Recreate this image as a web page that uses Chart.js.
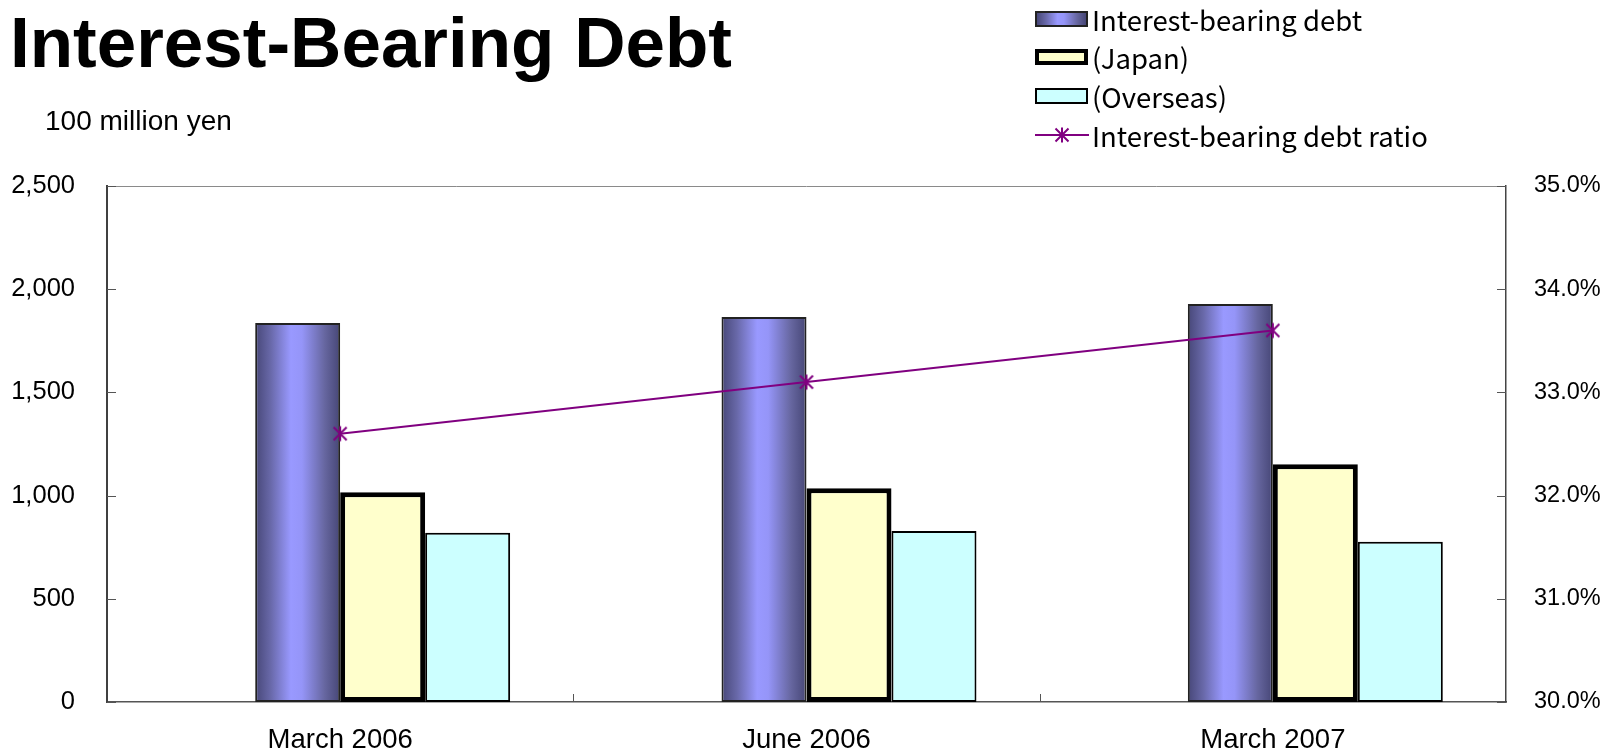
<!DOCTYPE html>
<html><head><meta charset="utf-8">
<script src="https://cdn.jsdelivr.net/npm/chart.js@4/dist/chart.umd.min.js"></script>
<style>
html,body{margin:0;padding:0;background:#fff;}
#wrap{position:relative;width:1601px;height:755px;overflow:hidden;background:#fff;}
#c{position:absolute;left:0;top:0;}
#title{position:absolute;left:10px;top:1px;font-family:"Liberation Sans",Arial,sans-serif;font-weight:bold;font-size:71px;line-height:84px;white-space:nowrap;color:#000;}
#unit{position:absolute;left:45px;top:105px;font-family:"Liberation Sans",Arial,sans-serif;font-size:28px;line-height:32px;white-space:nowrap;color:#000;}
#legend{position:absolute;left:1034px;top:0;width:567px;height:160px;}
.row{position:absolute;left:0;height:38px;display:flex;align-items:center;white-space:nowrap;}
.row canvas{display:block;}
.row span{margin-left:2px;font-family:"Noto Sans CJK JP","Liberation Sans",sans-serif;font-size:27.5px;line-height:38px;color:#000;}
</style>
</head><body>
<div id="wrap">
<canvas id="c" width="1601" height="755"></canvas>
<div id="title">Interest-Bearing Debt</div>
<div id="unit">100 million yen</div>
<div id="legend"></div>
</div>
<script>
// ---- data ----
const categories = ['March 2006', 'June 2006', 'March 2007'];
const totalDebt = [1836, 1865, 1928];
const japanDebt = [1016, 1036, 1152];
const overseasDebt = [820, 829, 776];
const debtRatio = [32.6, 33.1, 33.6];
const seriesNames = ['Interest-bearing debt', '(Japan)', '(Overseas)', 'Interest-bearing debt ratio'];
const leftAxis = {min: 0, max: 2500, step: 500};
const rightAxis = {min: 30, max: 35, step: 1};

const PURPLE = '#800080';
function drawStar(ctx, cx, cy, r) {
  ctx.save();
  ctx.strokeStyle = PURPLE; ctx.lineWidth = 2; ctx.lineCap = 'butt';
  ctx.beginPath();
  ctx.moveTo(cx - r, cy - r); ctx.lineTo(cx + r, cy + r);
  ctx.moveTo(cx + r, cy - r); ctx.lineTo(cx - r, cy + r);
  ctx.moveTo(cx, cy - r - 1); ctx.lineTo(cx, cy + r + 1);
  ctx.stroke();
  ctx.restore();
}
const starCanvas = document.createElement('canvas');
starCanvas.width = 18; starCanvas.height = 18;
drawStar(starCanvas.getContext('2d'), 9, 9, 6.5);

function addPurpleStops(g) {
  g.addColorStop(0, '#474778');
  g.addColorStop(0.18, '#6868a8');
  g.addColorStop(0.42, '#9999ff');
  g.addColorStop(0.55, '#9595f8');
  g.addColorStop(0.82, '#66669f');
  g.addColorStop(1, '#464676');
  return g;
}

// ---- legend (HTML) ----
const legendRows = [
  {type: 'bar', fill: 'grad', border: '#222', bw: 2},
  {type: 'bar', fill: '#ffffcc', border: '#000', bw: 4},
  {type: 'bar', fill: '#ccffff', border: '#000', bw: 2},
  {type: 'line'}
];
const legendCenters = [19, 57, 96, 135];
const legendEl = document.getElementById('legend');
seriesNames.forEach((name, i) => {
  const row = document.createElement('div');
  row.className = 'row';
  row.style.top = (legendCenters[i] - 19) + 'px';
  const cv = document.createElement('canvas');
  cv.width = 56; cv.height = 24;
  const x = cv.getContext('2d');
  const spec = legendRows[i];
  if (spec.type === 'bar') {
    const h = 16, y0 = 4, x0 = 1, w = 53;
    x.fillStyle = spec.border;
    x.fillRect(x0, y0, w, h);
    const bw = spec.bw;
    if (spec.fill === 'grad') {
      x.fillStyle = addPurpleStops(x.createLinearGradient(x0 + bw, 0, x0 + w - bw, 0));
    } else x.fillStyle = spec.fill;
    x.fillRect(x0 + bw, y0 + bw, w - 2 * bw, h - 2 * bw);
  } else {
    x.strokeStyle = PURPLE; x.lineWidth = 2;
    x.beginPath(); x.moveTo(1, 12); x.lineTo(55, 12); x.stroke();
    drawStar(x, 28, 12, 6.5);
  }
  row.appendChild(cv);
  const sp = document.createElement('span');
  sp.textContent = name;
  row.appendChild(sp);
  legendEl.appendChild(row);
});

// ---- plugins ----
const gradientPlugin = {
  id: 'gradientBars',
  beforeDatasetsDraw(chart) {
    const meta = chart.getDatasetMeta(1);
    const ctx = chart.ctx;
    meta.data.forEach(el => {
      const l = el.x - el.width / 2, r = el.x + el.width / 2;
      el.options.backgroundColor = addPurpleStops(ctx.createLinearGradient(l, 0, r, 0));
    });
  }
};
const frameTicksPlugin = {
  id: 'frameTicks',
  afterDraw(chart) {
    const {ctx, chartArea: a, scales} = chart;
    ctx.save();
    ctx.strokeStyle = '#8a8a8a'; ctx.lineWidth = 1;
    ctx.beginPath(); ctx.moveTo(a.left, a.top + 0.5); ctx.lineTo(a.right, a.top + 0.5); ctx.stroke();
    ctx.strokeStyle = '#555'; ctx.lineWidth = 1;
    ctx.beginPath();
    scales.y.ticks.forEach((t, i) => {
      const y = Math.round(scales.y.getPixelForTick(i)) + 0.5;
      ctx.moveTo(a.left, y); ctx.lineTo(a.left + 9, y);
    });
    scales.y1.ticks.forEach((t, i) => {
      const y = Math.round(scales.y1.getPixelForTick(i)) + 0.5;
      ctx.moveTo(a.right - 9, y); ctx.lineTo(a.right, y);
    });
    for (let i = 0; i < categories.length - 1; i++) {
      const xp = Math.round((scales.x.getPixelForValue(i) + scales.x.getPixelForValue(i + 1)) / 2) + 0.5;
      ctx.moveTo(xp, a.bottom); ctx.lineTo(xp, a.bottom - 8);
    }
    ctx.stroke();
    ctx.restore();
  }
};

const fam = '"Liberation Sans", Arial, sans-serif';

new Chart(document.getElementById('c'), {
  type: 'bar',
  data: {
    labels: categories,
    datasets: [
      {label: 'spacer', data: categories.map(() => null), order: 2, backgroundColor: 'rgba(0,0,0,0)'},
      {label: seriesNames[0], data: totalDebt, order: 2, backgroundColor: () => '#9999ff',
       borderColor: '#222', borderWidth: 2, borderSkipped: false},
      {label: seriesNames[1], data: japanDebt, order: 2, backgroundColor: '#ffffcc',
       borderColor: '#000', borderWidth: 5, borderSkipped: false},
      {label: seriesNames[2], data: overseasDebt, order: 2, backgroundColor: '#ccffff',
       borderColor: '#000', borderWidth: 2, borderSkipped: false},
      {label: seriesNames[3], type: 'line', data: debtRatio, yAxisID: 'y1', order: 0,
       borderColor: PURPLE, borderWidth: 2, pointStyle: starCanvas, pointRadius: 7,
       fill: false, tension: 0}
    ]
  },
  options: {
    responsive: false,
    animation: false,
    devicePixelRatio: 1,
    layout: {padding: {top: 186, left: 0, right: 0, bottom: 0}},
    datasets: {bar: {categoryPercentage: 0.729, barPercentage: 1.0}},
    plugins: {legend: {display: false}, tooltip: {enabled: false}, title: {display: false}},
    scales: {
      x: {
        offset: true,
        grid: {display: false, drawTicks: false},
        border: {display: true, color: '#555', width: 1.5},
        ticks: {font: {family: fam, size: 27.5}, color: '#000', padding: 22},
        afterFit(s) { s.height = 53; }
      },
      y: {
        position: 'left', min: leftAxis.min, max: leftAxis.max,
        grid: {display: false, drawTicks: false},
        border: {display: true, color: '#404040', width: 2},
        ticks: {stepSize: leftAxis.step, font: {family: fam, size: 25.5}, color: '#000', padding: 32,
                callback: v => v.toLocaleString('en-US')},
        afterFit(s) { s.width = 107; }
      },
      y1: {
        position: 'right', min: rightAxis.min, max: rightAxis.max,
        grid: {display: false, drawTicks: false},
        border: {display: true, color: '#444', width: 1.5},
        ticks: {stepSize: rightAxis.step, font: {family: fam, size: 23.5}, color: '#000', padding: 28,
                callback: v => v.toFixed(1) + '%'},
        afterFit(s) { s.width = 95; }
      }
    }
  },
  plugins: [gradientPlugin, frameTicksPlugin]
});
</script>
</body></html>
